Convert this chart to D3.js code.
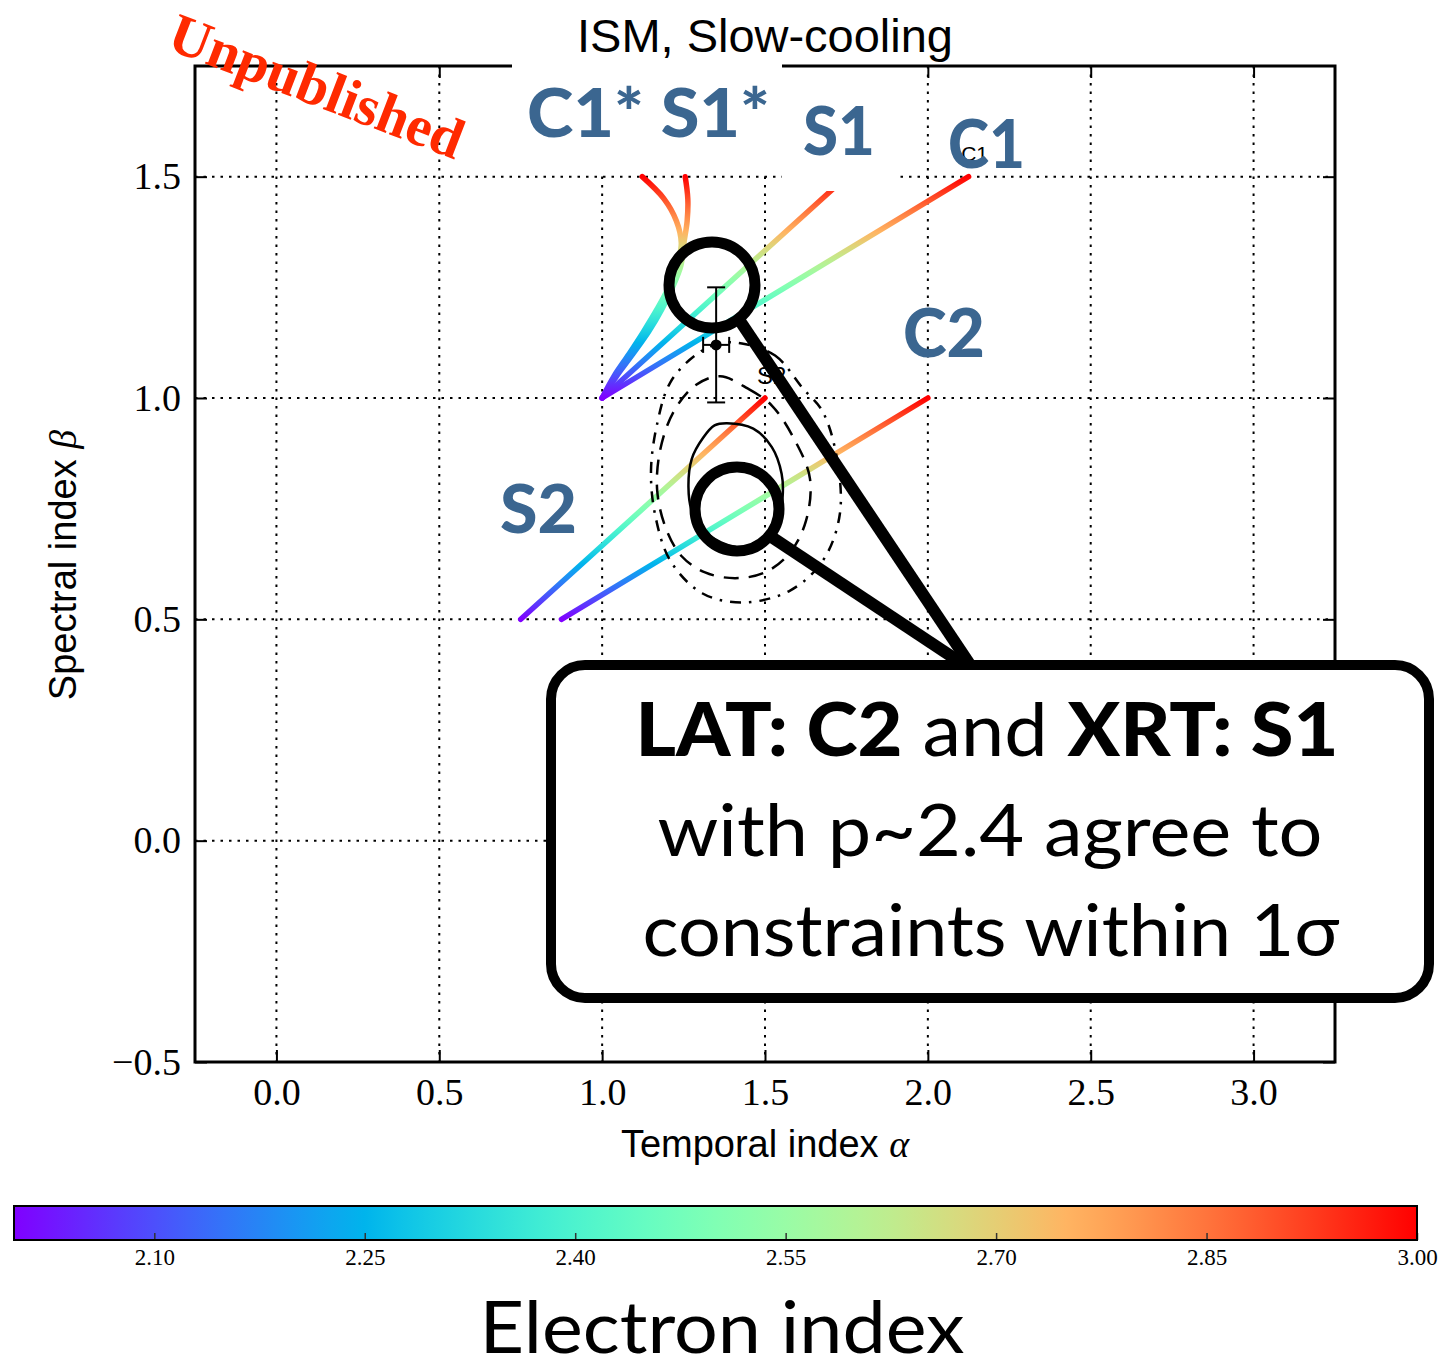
<!DOCTYPE html>
<html>
<head>
<meta charset="utf-8">
<script src="https://cdn.jsdelivr.net/npm/d3@7"></script>
<style>
  html, body { margin: 0; padding: 0; background: #fff; }
  svg { display: block; }
</style>
</head>
<body>
<svg id="chart" width="1441" height="1364"></svg>
<script>
// ---- axis ticks ----
const alphaTicks = [0.0, 0.5, 1.0, 1.5, 2.0, 2.5, 3.0];
const betaTicks = [-0.5, 0.0, 0.5, 1.0, 1.5];
const electronTicks = [2.10, 2.25, 2.40, 2.55, 2.70, 2.85, 3.00];

// ---- closure relations (straight segments, p = 2 ... 3) ----
const segmentP = [2.0, 3.0];
const s1Alpha = [1.0, 1.75];
const s1Beta = [1.0, 1.5];
const c1Alpha = [1.0, 2.125];
const c1Beta = [1.0, 1.5];
const s2Alpha = [0.75, 1.5];
const s2Beta = [0.5, 1.0];
const c2Alpha = [0.875, 2.0];
const c2Beta = [0.5, 1.0];

// ---- curved closure relations (C1*, S1*) ----
const starP = [2.0, 2.1, 2.2, 2.3, 2.4, 2.5, 2.6, 2.7, 2.8, 2.9, 3.0];
const starBeta = [1.0, 1.05, 1.10, 1.15, 1.20, 1.25, 1.30, 1.35, 1.40, 1.45, 1.50];
const s1StarAlpha = [1.000, 1.045, 1.095, 1.143, 1.183, 1.216, 1.242, 1.251, 1.261, 1.263, 1.255];
const c1StarAlpha = [1.000, 1.037, 1.083, 1.127, 1.168, 1.204, 1.230, 1.243, 1.228, 1.190, 1.123];

// ---- measurement ----
const obsAlpha = 1.35, obsAlphaErr = 0.04;
const obsBeta = 1.12, obsBetaErr = 0.13;

// ---- confidence contours (alpha, beta) ----
const contour1Alpha = [1.383, 1.464, 1.521, 1.551, 1.554, 1.536, 1.485, 1.413, 1.321, 1.275, 1.265, 1.275, 1.310, 1.345];
const contour1Beta  = [0.943, 0.931, 0.889, 0.829, 0.776, 0.708, 0.671, 0.663, 0.694, 0.746, 0.799, 0.862, 0.910, 0.938];
const contour2Alpha = [1.362, 1.448, 1.521, 1.592, 1.638, 1.626, 1.577, 1.500, 1.408, 1.316, 1.245, 1.196, 1.169, 1.178, 1.218, 1.285];
const contour2Beta  = [1.049, 1.021, 0.983, 0.904, 0.818, 0.723, 0.651, 0.606, 0.593, 0.606, 0.642, 0.705, 0.791, 0.882, 0.967, 1.028];
const contour3Alpha = [1.429, 1.531, 1.617, 1.675, 1.718, 1.730, 1.678, 1.577, 1.433, 1.307, 1.209, 1.163, 1.150, 1.169, 1.209, 1.285, 1.356];
const contour3Beta  = [1.123, 1.096, 1.021, 0.972, 0.875, 0.739, 0.633, 0.565, 0.538, 0.559, 0.633, 0.735, 0.836, 0.942, 1.035, 1.096, 1.123];

const svg = d3.select("#chart");
const plot = { left: 195, right: 1335, top: 66, bottom: 1062 };

const x = d3.scaleLinear().domain([-0.25, 3.25]).range([plot.left, plot.right]);
const y = d3.scaleLinear().domain([-0.5, 1.75]).range([plot.bottom, plot.top]);
const pNorm = d3.scaleLinear().domain([2.0, 3.0]).range([0, 1]).clamp(true);

// matplotlib "rainbow" colormap
function rainbow(t) {
  const c = v => Math.max(0, Math.min(1, v));
  const r = c(Math.abs(2 * t - 0.5));
  const g = c(Math.sin(Math.PI * t));
  const b = c(Math.cos(Math.PI * t / 2));
  return d3.rgb(r * 255, g * 255, b * 255).formatHex();
}
const colorOf = p => rainbow(pNorm(p));

const defs = svg.append("defs");

// ---- grid ----
const grid = svg.append("g").attr("stroke", "#000").attr("stroke-width", 2)
  .attr("stroke-dasharray", "2.5,6");
grid.selectAll(".gx").data(alphaTicks).join("line")
  .attr("x1", d => x(d)).attr("x2", d => x(d))
  .attr("y1", plot.top).attr("y2", plot.bottom);
grid.selectAll(".gy").data(betaTicks.filter(d => d > -0.5)).join("line")
  .attr("x1", plot.left).attr("x2", plot.right)
  .attr("y1", d => y(d)).attr("y2", d => y(d));

// ---- coloured closure lines (color follows p, which is linear in beta) ----
function verticalGradient(id, pArr, betaArr) {
  const p0 = pArr[0], p1 = pArr[pArr.length - 1];
  const g = defs.append("linearGradient").attr("id", id)
    .attr("gradientUnits", "userSpaceOnUse")
    .attr("x1", 0).attr("x2", 0)
    .attr("y1", y(betaArr[0])).attr("y2", y(betaArr[betaArr.length - 1]));
  d3.range(0, 21).forEach(i => {
    const p = p0 + (p1 - p0) * i / 20;
    g.append("stop").attr("offset", i / 20).attr("stop-color", colorOf(p));
  });
  return `url(#${id})`;
}

const tracks = [
  { id: "gS1", p: segmentP, a: s1Alpha, b: s1Beta, curve: d3.curveLinear },
  { id: "gC1", p: segmentP, a: c1Alpha, b: c1Beta, curve: d3.curveLinear },
  { id: "gS2", p: segmentP, a: s2Alpha, b: s2Beta, curve: d3.curveLinear },
  { id: "gC2", p: segmentP, a: c2Alpha, b: c2Beta, curve: d3.curveLinear },
  { id: "gS1s", p: starP, a: s1StarAlpha, b: starBeta, curve: d3.curveCatmullRom },
  { id: "gC1s", p: starP, a: c1StarAlpha, b: starBeta, curve: d3.curveCatmullRom }
];
const tracksG = svg.append("g");
tracks.forEach(t => {
  const pts = t.a.map((a, i) => [x(a), y(t.b[i])]);
  tracksG.append("path")
    .attr("d", d3.line().curve(t.curve)(pts))
    .attr("fill", "none")
    .attr("stroke", verticalGradient(t.id, t.p, t.b))
    .attr("stroke-width", 5.5)
    .attr("stroke-linecap", "round");
});

// ---- confidence contours ----
const contours = [
  { a: contour3Alpha, b: contour3Beta, dash: "11,8,2.5,8" },
  { a: contour2Alpha, b: contour2Beta, dash: "15,10" },
  { a: contour1Alpha, b: contour1Beta, dash: null }
];
const contourG = svg.append("g");
contours.forEach(c => {
  const pts = c.a.map((a, i) => [x(a), y(c.b[i])]);
  contourG.append("path")
    .attr("d", d3.line().curve(d3.curveCatmullRomClosed)(pts))
    .attr("fill", "none").attr("stroke", "#000").attr("stroke-width", 2.5)
    .attr("stroke-dasharray", c.dash);
});

// ---- measurement with error bars ----
const eb = svg.append("g").attr("stroke", "#000").attr("stroke-width", 2);
eb.append("line").attr("x1", x(obsAlpha)).attr("x2", x(obsAlpha))
  .attr("y1", y(obsBeta - obsBetaErr)).attr("y2", y(obsBeta + obsBetaErr));
[obsBeta - obsBetaErr, obsBeta + obsBetaErr].forEach(b => {
  eb.append("line").attr("x1", x(obsAlpha) - 9).attr("x2", x(obsAlpha) + 9)
    .attr("y1", y(b)).attr("y2", y(b));
});
eb.append("line").attr("x1", x(obsAlpha - obsAlphaErr)).attr("x2", x(obsAlpha + obsAlphaErr))
  .attr("y1", y(obsBeta)).attr("y2", y(obsBeta));
[obsAlpha - obsAlphaErr, obsAlpha + obsAlphaErr].forEach(a => {
  eb.append("line").attr("x1", x(a)).attr("x2", x(a))
    .attr("y1", y(obsBeta) - 8).attr("y2", y(obsBeta) + 8);
});
svg.append("circle").attr("cx", x(obsAlpha)).attr("cy", y(obsBeta)).attr("r", 5.5).attr("fill", "#000");

// small track labels next to the p = 3 ends
svg.append("text").attr("x", x(c1Alpha[1]) + 6).attr("y", y(c1Beta[1]) - 16)
  .attr("font-family", "Liberation Sans, Arial, sans-serif").attr("font-size", 21)
  .attr("text-anchor", "middle").text("C1");
svg.append("text").attr("x", x(s2Alpha[1]) - 8).attr("y", y(s2Beta[1]) - 14)
  .attr("font-family", "Liberation Sans, Arial, sans-serif").attr("font-size", 24)
  .text("S2");

// ---- axes (ticks point inward on all four sides) ----
const fmt = d3.format(".1f");
const tickFont = "Liberation Serif, 'DejaVu Serif', serif";
function styleAxis(g) {
  g.select(".domain").remove();
  g.selectAll(".tick line").attr("stroke", "#000").attr("stroke-width", 2);
  g.selectAll(".tick text").attr("font-family", tickFont).attr("font-size", 38).attr("fill", "#000");
}
svg.append("g").attr("transform", `translate(0,${plot.bottom})`)
  .call(d3.axisBottom(x).tickValues(alphaTicks).tickFormat(fmt).tickSizeInner(-12).tickSizeOuter(0).tickPadding(16))
  .call(styleAxis);
svg.append("g").attr("transform", `translate(0,${plot.top})`)
  .call(d3.axisTop(x).tickValues(alphaTicks).tickFormat("").tickSizeInner(-12).tickSizeOuter(0))
  .call(styleAxis);
svg.append("g").attr("transform", `translate(${plot.left},0)`)
  .call(d3.axisLeft(y).tickValues(betaTicks).tickFormat(fmt).tickSizeInner(-12).tickSizeOuter(0).tickPadding(14))
  .call(styleAxis);
svg.append("g").attr("transform", `translate(${plot.right},0)`)
  .call(d3.axisRight(y).tickValues(betaTicks).tickFormat("").tickSizeInner(-12).tickSizeOuter(0))
  .call(styleAxis);

// frame
svg.append("rect").attr("x", plot.left).attr("y", plot.top)
  .attr("width", plot.right - plot.left).attr("height", plot.bottom - plot.top)
  .attr("fill", "none").attr("stroke", "#000").attr("stroke-width", 3);

// white panels behind the title and the S1 tag
svg.append("rect").attr("x", 512).attr("y", 0).attr("width", 270).attr("height", 173).attr("fill", "#fff");
svg.append("rect").attr("x", 782).attr("y", 92).attr("width", 114).attr("height", 99).attr("fill", "#fff");

// title
svg.append("text").attr("x", 765).attr("y", 52).attr("text-anchor", "middle")
  .attr("font-family", "Liberation Sans, Arial, sans-serif").attr("font-size", 46)
  .attr("textLength", 376).attr("lengthAdjust", "spacingAndGlyphs")
  .text("ISM, Slow-cooling");

// axis titles
const xl = svg.append("text").attr("x", 765).attr("y", 1157).attr("text-anchor", "middle")
  .attr("font-family", "Liberation Sans, Arial, sans-serif").attr("font-size", 38);
xl.append("tspan").text("Temporal index ");
xl.append("tspan").attr("font-family", tickFont).attr("font-style", "italic").text("α");

const yl = svg.append("text").attr("transform", "translate(76,565) rotate(-90)").attr("text-anchor", "middle")
  .attr("font-family", "Liberation Sans, Arial, sans-serif").attr("font-size", 38);
yl.append("tspan").text("Spectral index ");
yl.append("tspan").attr("font-family", tickFont).attr("font-style", "italic").text("β");

// ---- big track tags ----
const tagColor = "#3b6690";
const tags = [
  { t: "C1* S1*", x: 527, y: 137, w: 243 },
  { t: "S1", x: 803, y: 155, w: 72 },
  { t: "C1", x: 948, y: 168, w: 77 },
  { t: "C2", x: 903, y: 357, w: 82 },
  { t: "S2", x: 500, y: 533, w: 77 }
];
tags.forEach(d => {
  svg.append("text").attr("x", d.x).attr("y", d.y)
    .attr("font-family", "Lato, 'Open Sans', sans-serif").attr("font-weight", 900)
    .attr("font-size", 66).attr("fill", tagColor)
    .attr("textLength", d.w).attr("lengthAdjust", "spacingAndGlyphs")
    .text(d.t);
});

// watermark
svg.append("text").attr("transform", "translate(310,104) rotate(21)").attr("text-anchor", "middle")
  .attr("font-family", "Liberation Serif, 'Times New Roman', serif").attr("font-weight", "bold")
  .attr("font-size", 57).attr("fill", "#ff2a00").text("Unpublished");

// ---- magnifiers ----
const mag = svg.append("g").attr("stroke", "#000").attr("fill", "none");
mag.append("line").attr("x1", 738).attr("y1", 318).attr("x2", 975).attr("y2", 672).attr("stroke-width", 12);
mag.append("line").attr("x1", 770).attr("y1", 536).attr("x2", 975).attr("y2", 672).attr("stroke-width", 12);
mag.append("circle").attr("cx", 712).attr("cy", 285).attr("r", 43).attr("stroke-width", 11);
mag.append("circle").attr("cx", 737).attr("cy", 509).attr("r", 42).attr("stroke-width", 11);

// ---- callout ----
svg.append("rect").attr("x", 551).attr("y", 665).attr("width", 878).attr("height", 333)
  .attr("rx", 34).attr("ry", 34).attr("fill", "#fff").attr("stroke", "#000").attr("stroke-width", 10);
const calloutFont = "Lato, 'Open Sans', sans-serif";
const l1 = svg.append("text").attr("x", 987).attr("y", 756).attr("text-anchor", "middle")
  .attr("font-family", calloutFont).attr("font-size", 74)
  .attr("textLength", 703).attr("lengthAdjust", "spacingAndGlyphs");
l1.append("tspan").attr("font-weight", 900).text("LAT: C2");
l1.append("tspan").attr("font-weight", 400).text(" and ");
l1.append("tspan").attr("font-weight", 900).text("XRT: S1");
svg.append("text").attr("x", 990).attr("y", 856).attr("text-anchor", "middle")
  .attr("font-family", calloutFont).attr("font-size", 72)
  .attr("textLength", 665).attr("lengthAdjust", "spacingAndGlyphs")
  .text("with p~2.4 agree to");
svg.append("text").attr("x", 991).attr("y", 956).attr("text-anchor", "middle")
  .attr("font-family", calloutFont).attr("font-size", 72)
  .attr("textLength", 697).attr("lengthAdjust", "spacingAndGlyphs")
  .text("constraints within 1σ");

// ---- colorbar ----
const cb = d3.scaleLinear().domain([2.0, 3.0]).range([14, 1417]);
const cbTop = 1206, cbBottom = 1240;
const cbGrad = defs.append("linearGradient").attr("id", "cbGrad")
  .attr("gradientUnits", "userSpaceOnUse")
  .attr("x1", cb(2.0)).attr("x2", cb(3.0)).attr("y1", 0).attr("y2", 0);
d3.range(0, 41).forEach(i => {
  cbGrad.append("stop").attr("offset", i / 40).attr("stop-color", rainbow(i / 40));
});
svg.append("rect").attr("x", cb(2.0)).attr("y", cbTop).attr("width", cb(3.0) - cb(2.0))
  .attr("height", cbBottom - cbTop).attr("fill", "url(#cbGrad)");
svg.append("g").attr("transform", `translate(0,${cbBottom})`)
  .call(d3.axisBottom(cb).tickValues(electronTicks).tickFormat(d3.format(".2f"))
    .tickSizeInner(-7).tickSizeOuter(0).tickPadding(9))
  .call(g => {
    g.select(".domain").remove();
    g.selectAll(".tick line").attr("stroke", "#333").attr("stroke-width", 1.5);
    g.selectAll(".tick text").attr("font-family", tickFont).attr("font-size", 23).attr("fill", "#000");
  });
svg.append("rect").attr("x", cb(2.0)).attr("y", cbTop).attr("width", cb(3.0) - cb(2.0))
  .attr("height", cbBottom - cbTop).attr("fill", "none").attr("stroke", "#000").attr("stroke-width", 2);

svg.append("text").attr("x", 722).attr("y", 1353).attr("text-anchor", "middle")
  .attr("font-family", calloutFont).attr("font-size", 71)
  .attr("textLength", 485).attr("lengthAdjust", "spacingAndGlyphs")
  .text("Electron index");
</script>
</body>
</html>
